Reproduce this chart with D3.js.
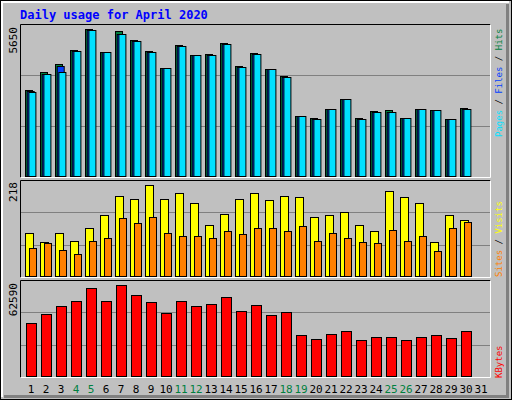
<!DOCTYPE html>
<html><head><meta charset="utf-8">
<script src="https://cdn.jsdelivr.net/npm/d3@7"></script>
<style>body{margin:0;background:#fff}</style>
</head><body>
<div id="chart"></div>
<script>
// daily values, April 2020
var days = d3.range(1, 32);
var weekend = [4, 5, 11, 12, 18, 19, 25, 26];
var hits  = [3323,4013,4320,4845,5650,4768,5573,5228,4807,4155,5037,4653,4692,5113,4232,4730,4117,3848,2315,2238,2583,2967,2238,2507,2545,2238,2583,2545,2200,2622];
var files = [3285,3937,4243,4818,5611,4768,5470,5190,4768,4155,4998,4653,4653,5075,4193,4692,4117,3810,2315,2200,2583,2967,2200,2468,2468,2238,2583,2545,2200,2583];
var pages = [3235,3937,4013,4818,5611,4768,5470,5190,4768,4155,4998,4653,4653,5075,4193,4692,4117,3810,2315,2200,2583,2967,2200,2468,2468,2238,2583,2545,2200,2583];
var visits = [102,81,104,83,116,145,192,185,218,185,199,175,123,149,185,199,182,192,190,142,145,154,123,109,204,190,175,81,145,135];
var sites  = [66,78,62,52,83,92,140,128,142,104,97,95,90,107,100,114,116,107,119,85,104,90,81,78,111,85,95,59,116,130];
var kbytes = [36644,42561,48024,51438,60314,51438,62590,55534,50755,43244,51438,48024,49389,54169,44610,48706,41878,43927,28222,25491,28905,30954,24808,26857,26857,24808,26857,28222,26174,30954];

var W = 512, H = 400;
var svg = d3.select("#chart").append("svg").attr("width", W).attr("height", H)
  .style("font-family", "DejaVu Sans Mono, monospace");

// background + 3d frame
svg.append("rect").attr("width", W).attr("height", H).attr("fill", "#c0c0c0");
svg.append("rect").attr("x", 0.5).attr("y", 0.5).attr("width", W - 1).attr("height", H - 1).attr("fill", "none").attr("stroke", "#000");
svg.append("path").attr("d", "M2,397 V2 H509").attr("fill", "none").attr("stroke", "#fff").attr("stroke-width", 2);
svg.append("path").attr("d", "M506,4 V395 H4 V398 H509 V4 Z").attr("fill", "#808080");

svg.append("text").attr("x", 20).attr("y", 19).attr("fill", "#0000ff")
  .style("font-size", "12px").style("font-weight", "bold").text("Daily usage for April 2020");

var x = d3.scaleBand().domain(days).range([22, 487]).paddingInner(0);

function panel(top, bottom, max) {
  svg.append("rect").attr("x", 20).attr("y", top).attr("width", 471).attr("height", bottom - top).attr("fill", "#c0c0c0");
  svg.append("path").attr("d", "M20.5," + (bottom + 0.5) + " V" + (top + 0.5) + " H490.5").attr("fill", "none").attr("stroke", "#000");
  svg.append("path").attr("d", "M20.5," + (bottom + 0.5) + " H490.5 V" + (top + 0.5)).attr("fill", "none").attr("stroke", "#fff");
  var h = bottom - top;
  [1, 2].forEach(function(k) {
    var gy = Math.round(top + h * k / 3) + 0.5;
    svg.append("line").attr("x1", 21).attr("x2", 490).attr("y1", gy).attr("y2", gy).attr("stroke", "#808080");
  });
  return d3.scaleLinear().domain([0, max]).range([bottom - 1, top + 5]);
}

function bars(data, y, dx, w, color) {
  svg.append("g").selectAll("rect").data(data).enter().append("rect")
    .attr("x", function(d, i) { return x(days[i]) + dx + 0.5; })
    .attr("y", function(d) { return Math.round(y(d)) + 0.5; })
    .attr("width", w)
    .attr("height", function(d) { return y(0) - Math.round(y(d)); })
    .attr("fill", color).attr("stroke", "#000");
}

function vlabel(xx, yy, parts, anchor, size) {
  var t = svg.append("text").attr("transform", "translate(" + xx + "," + yy + ") rotate(-90)")
    .attr("text-anchor", anchor).style("font-size", size + "px");
  parts.forEach(function(p) { t.append("tspan").attr("fill", p[1]).text(p[0]); });
}

var y1 = panel(24, 177, 5650);
bars(hits, y1, 3, 7, "#008040");
bars(files, y1, 4.7, 7, "#0040ff");
bars(pages, y1, 6.4, 7, "#00e0ff");
vlabel(17, 27, [["5650", "#000"]], "end", 11);
vlabel(502, 137, [["Pages", "#00e0ff"], [" / ", "#000"], ["Files", "#0040ff"], [" / ", "#000"], ["Hits", "#008040"]], "start", 9);

var y2 = panel(180, 277, 218);
bars(visits, y2, 3, 8, "#ffff00");
bars(sites, y2, 7, 7, "#ff8000");
vlabel(17, 182, [["218", "#000"]], "end", 11);
vlabel(502, 277, [["Sites", "#ff8000"], [" / ", "#000"], ["Visits", "#ffff00"]], "start", 9);

var y3 = panel(280, 377, 62590);
bars(kbytes, y3, 4, 10, "#ff0000");
vlabel(17, 283, [["62590", "#000"]], "end", 11);
vlabel(502, 378, [["KBytes", "#ff0000"]], "start", 9);

svg.append("g").selectAll("text").data(days).enter().append("text")
  .attr("x", function(d) { return x(d) + 9; })
  .attr("y", 393).attr("text-anchor", "middle").style("font-size", "11px")
  .attr("fill", function(d) { return weekend.indexOf(d) >= 0 ? "#008040" : "#000"; })
  .text(function(d) { return d; });
</script>
</body></html>
